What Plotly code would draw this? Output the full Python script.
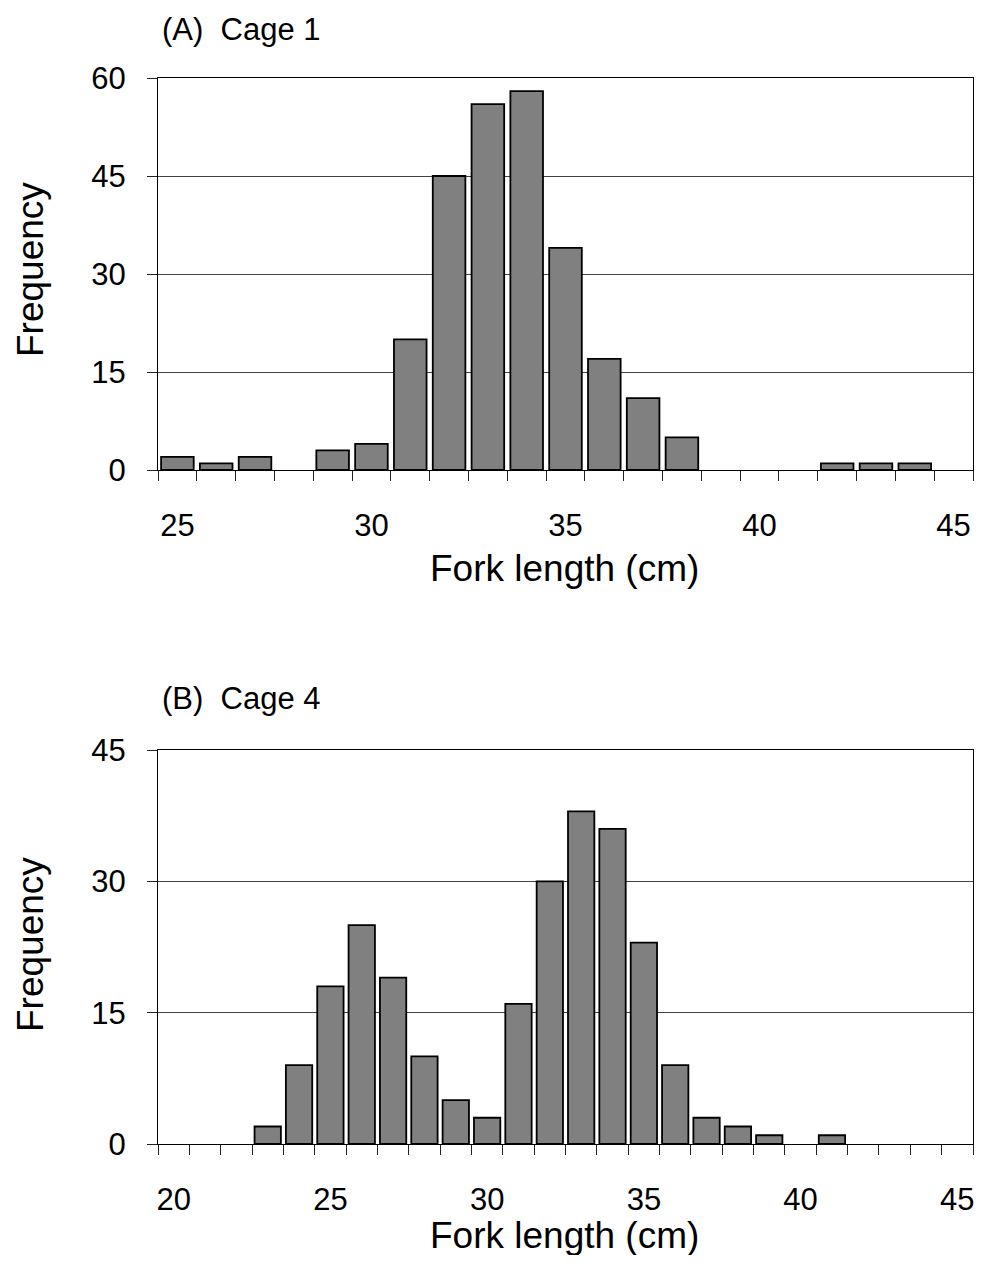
import plotly.graph_objects as go

# ---- data ----
len_a = list(range(25, 46))
freq_a = [2, 1, 2, 0, 3, 4, 20, 45, 56, 58, 34, 17, 11, 5, 0, 0, 0, 1, 1, 1, 0]

len_b = list(range(20, 46))
freq_b = [0, 0, 0, 2, 9, 18, 25, 19, 10, 5, 3, 16, 30, 38, 36, 23, 9, 3, 2, 1, 0, 1, 0, 0, 0, 0]

ticks_a = [25, 30, 35, 40, 45]
ticks_b = [20, 25, 30, 35, 40, 45]
yticks_a = [0, 15, 30, 45, 60]
yticks_b = [0, 15, 30, 45]

title_a = "(A)\u00a0\u00a0Cage 1"
title_b = "(B)\u00a0\u00a0Cage 4"
xtitle = "Fork length (cm)"
ytitle = "Frequency"

OFF = 8  # page body margin
W, H = 982 - 2 * OFF, 1263 - 2 * OFF
FONT = "Arial, Liberation Sans, sans-serif"

def py(y):
    return 1 - (y - OFF) / H

def pxx(x):
    return (x - OFF) / W

fig = go.Figure()
bar_style = dict(marker=dict(color="#808080", line=dict(color="black", width=1.8)),
                 width=0.84, showlegend=False, hoverinfo="x+y")
fig.add_trace(go.Bar(x=len_a, y=[v if v else None for v in freq_a],
                     xaxis="x", yaxis="y", **bar_style))
fig.add_trace(go.Bar(x=len_b, y=[v if v else None for v in freq_b],
                     xaxis="x2", yaxis="y2", **bar_style))

xdom = [pxx(158), pxx(973)]
TICKSIZE = 31

def xaxis(lo, hi, tv, anchor):
    return dict(domain=xdom, anchor=anchor, range=[lo - 0.5, hi + 0.5],
                tickvals=tv, ticktext=[str(v) for v in tv], ticks="",
                ticklabelstandoff=28, automargin=False, ticklabeloverflow="allow",
                minor=dict(ticks="outside", ticklen=10, tickcolor="#222", tickwidth=1,
                           tick0=lo - 0.5, dtick=1, showgrid=False),
                showline=True, linecolor="black", linewidth=1.2, mirror=True,
                showgrid=False, zeroline=False,
                tickfont=dict(family=FONT, size=TICKSIZE, color="black"))

def yaxis(top, tv, dom, anchor):
    return dict(domain=dom, anchor=anchor, range=[0, top], tickvals=tv,
                ticks="outside", ticklen=10, tickcolor="#222", tickwidth=1,
                ticklabelstandoff=15, automargin=False,
                showline=True, linecolor="black", linewidth=1.2, mirror=True,
                showgrid=True, gridcolor="#444", gridwidth=1, zeroline=False,
                tickfont=dict(family=FONT, size=TICKSIZE, color="black"))

fig.update_layout(
    width=W, height=H, margin=dict(l=0, r=0, t=0, b=0, autoexpand=False),
    paper_bgcolor="white", plot_bgcolor="white", bargap=0.16,
    xaxis=xaxis(25, 45, ticks_a, "y"),
    yaxis=yaxis(60, yticks_a, [py(470), py(78)], "x"),
    xaxis2=xaxis(20, 45, ticks_b, "y2"),
    yaxis2=yaxis(45, yticks_b, [py(1144), py(750)], "x2"),
)

ann = []
def add_text(text, x, y, size, xanchor="center", angle=0):
    ann.append(dict(text=text, x=pxx(x), y=py(y), xref="paper", yref="paper",
                    xanchor=xanchor, yanchor="middle", showarrow=False,
                    textangle=angle, font=dict(family=FONT, size=size, color="black")))

add_text(title_a, 160, 29, 31, xanchor="left")
add_text(title_b, 160, 699, 31, xanchor="left")
add_text(xtitle, 564, 568, 37)
add_text(xtitle, 564, 1235, 37)
add_text(ytitle, 30, 270, 37, angle=-90)
add_text(ytitle, 30, 945, 37, angle=-90)
fig.update_layout(annotations=ann)

fig.write_html("out.html")
